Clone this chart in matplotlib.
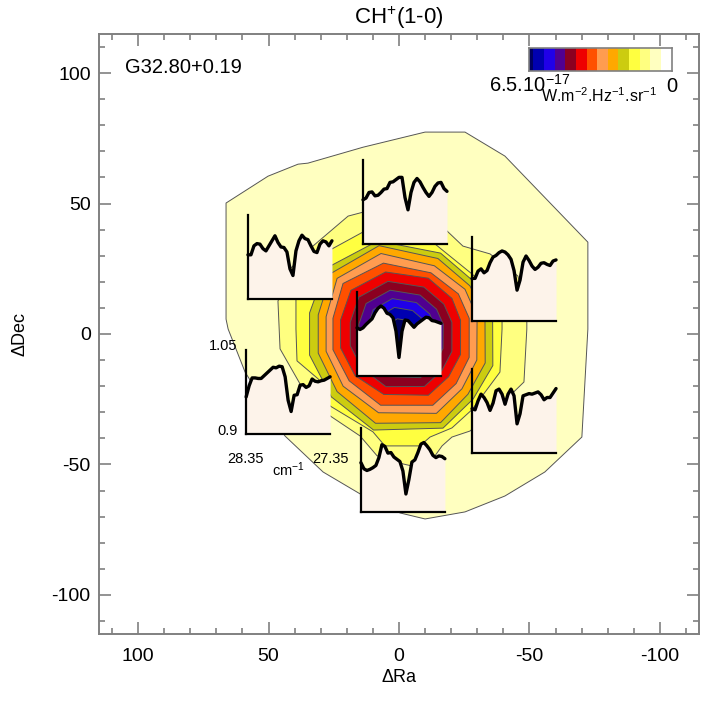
import numpy as np
import matplotlib
matplotlib.use("Agg")
import matplotlib.pyplot as plt
from matplotlib.ticker import MultipleLocator

plt.rcParams["font.family"] = ["Liberation Sans", "DejaVu Sans"]
plt.rcParams["mathtext.default"] = "regular"

# -------- CONTOUR DATA --------
pale_ra = [66.3, 50.2, 38.7, 34.9, 13.8, -10, -25.3, -40.6, -72.4, -72.4, -70.1, -55.9, -40.6, -25.3, -10, -0.4, 14.9, 29.1, 43.7, 59, 65.5, 66.3]
pale_dec = [50.2, 60.5, 65.1, 65.5, 71.6, 77.4, 77.4, 68.2, 35.2, 1.9, -39.5, -52.9, -62.1, -68.2, -70.9, -68.6, -61.3, -52.9, -39.1, -14.6, 1.9, 5.7]
light_ra = [19.5, 13.8, -0.4, -18.4, -24.5, -34.9, -45.6, -49, -49, -47.9, -37, -27.2, -20.3, -16.5, -13.8, -5, -1.5, 3.4, 8.4, 14.9, 26.4, 37.9, 45.6, 46.4, 41.8, 33]
light_dec = [45.2, 46.7, 47, 39.5, 33.7, 30.7, 22.2, 6.9, 1.9, -18.4, -29, -37.2, -39.5, -42.9, -46.7, -50.6, -49.8, -47.9, -46.7, -39.1, -31.4, -19.2, -5.7, 12.6, 24.9, 33.7]
yellow_ra = [25.7, 13.8, -0.4, -13.8, -28, -36.8, -39.5, -39.5, -38.7, -28, -20.3, -11.9, -8, 5.4, 10, 26.4, 31, 39.1, 39.5, 39.5, 36]
yellow_dec = [32.6, 39.1, 41, 34.5, 23, 15.3, 4.6, 1.9, -14.6, -29, -36, -39.5, -42.9, -42.9, -37.5, -27.6, -17.2, -10.3, 1.9, 13.4, 23]

center_ra = -0.8
ring_angles = [104, 64, 35, 13, -19, -42, -66, -106, -138, -167, 167, 139]
olive_r = [36.8, 34.5, 34.5, 36, 37.2, 37.2, 39.5, 38.3, 36, 36, 36, 38.3]
orange_r = [34.9, 32.2, 32.2, 33, 34.1, 34.5, 37.2, 35.6, 33, 32.6, 32.6, 35.5]
salmon_r = [31.8, 29.1, 29.9, 29.9, 30.7, 31.4, 33.3, 31.4, 29.9, 29.5, 29.5, 32.5]
vermil_r = [28, 26.1, 26.8, 26.8, 27.6, 28.4, 29.9, 28.4, 26.8, 26.8, 26.8, 29.5]
red_r = [24.5, 23.8, 23.8, 23.4, 24.1, 24.5, 25.7, 24.1, 23.8, 23.8, 23.8, 25.5]
maroon_r = [20.8, 20, 20, 20, 20.6, 21, 22, 21, 20, 20, 20, 21.5]
purple_r = [17.3, 16.6, 16.6, 16.6, 17, 17.4, 18.3, 17, 16.6, 16.6, 16.6, 17.8]
blue_r = [14, 13.4, 13.4, 13.2, 13.6, 14, 14.5, 13.6, 13.2, 13, 13, 14.2]
deep_r = [10.5, 10, 10, 10, 10.2, 10.5, 11, 10.2, 10, 10, 10, 10.6]
navy_r = [6, 5.8, 5.8, 5.8, 6, 6, 6.4, 6, 5.8, 5.8, 5.8, 6]

ring_radii = [olive_r, orange_r, salmon_r, vermil_r, red_r, maroon_r, purple_r, blue_r, deep_r, navy_r]
ring_colors = ["#cccc10", "#ffa800", "#ff9c50", "#ff5000", "#ee0000", "#8b0020", "#500090", "#2000e8", "#0000b0", "#000060"]

# -------- COLOUR BAR --------
cbar_edges = [6.5, 6.32, 5.83, 5.33, 4.86, 4.37, 3.88, 3.39, 2.92, 2.44, 1.95, 1.46, 0.99, 0.49, 0]
cbar_colors = ["#000060", "#0000b0", "#2000e8", "#500090", "#8b0020", "#ee0000", "#ff5000", "#ff9c50", "#ffa800", "#cccc10", "#ffff40", "#ffff80", "#ffffc0", "#ffffff"]

# -------- SPECTRA (normalised flux, 28.35 to 27.35 cm-1) --------
flux_center = [0.986, 0.983, 0.986, 0.992, 0.997, 1.002, 1.013, 1.021, 1.025, 1.021, 1.012, 1.010, 1.004, 0.980, 0.933, 0.980, 1.000, 0.999, 0.993, 0.987, 0.993, 0.997, 1.001, 1.005, 1.004, 0.999, 0.998, 0.996, 0.994]
flux_top = [0.979, 0.982, 0.992, 0.993, 0.986, 0.987, 0.992, 0.998, 0.999, 1.010, 1.011, 1.015, 1.019, 1.019, 0.983, 0.961, 0.992, 1.010, 1.017, 1.011, 1.001, 0.992, 0.985, 0.992, 1.003, 1.009, 1.010, 0.999, 0.994]
flux_upleft = [0.979, 0.979, 0.995, 0.999, 0.998, 0.990, 0.986, 0.995, 1.004, 1.013, 1.001, 0.993, 0.992, 0.984, 0.954, 0.942, 0.986, 1.004, 1.014, 1.008, 1.006, 0.995, 0.985, 0.983, 0.998, 1.004, 1.002, 0.995, 1.004]
flux_upright = [0.976, 0.976, 0.989, 0.993, 0.986, 0.990, 1.004, 1.014, 1.017, 1.022, 1.025, 1.023, 1.018, 1.010, 0.990, 0.955, 0.973, 1.005, 1.016, 1.008, 0.998, 0.992, 0.996, 1.003, 1.004, 1.001, 0.999, 1.007, 1.009]
flux_lowleft = [0.966, 0.986, 1.000, 1.000, 0.999, 0.999, 1.004, 1.009, 1.014, 1.019, 1.018, 1.021, 1.020, 1.002, 0.960, 0.940, 0.969, 0.970, 0.987, 0.988, 0.983, 0.986, 0.998, 0.994, 0.993, 0.995, 0.996, 0.999, 1.002]
flux_lowright = [0.979, 0.977, 0.993, 1.005, 0.999, 0.990, 0.976, 0.989, 1.011, 1.014, 1.005, 0.987, 1.005, 1.014, 1.002, 0.952, 0.970, 1.002, 1.004, 1.006, 1.005, 1.007, 1.009, 1.004, 0.995, 0.999, 0.999, 1.007, 1.015]
flux_bottom = [0.988, 0.977, 0.974, 0.976, 0.979, 0.983, 0.997, 1.020, 1.017, 1.005, 1.006, 0.998, 0.994, 0.990, 0.973, 0.932, 0.958, 0.989, 0.993, 1.006, 1.021, 1.024, 1.018, 1.011, 1.001, 0.997, 1.000, 0.999, 0.995]

# lower left corner of each small panel, in (dRa, dDec)
panel_ra = [57.9, 13.8, -28, 58.6, -28, 14.6, 16.1]
panel_dec = [13.4, 34.5, 5, -38.3, -45.6, -68.2, -16.1]
panel_flux = [flux_upleft, flux_top, flux_upright, flux_lowleft, flux_lowright, flux_bottom, flux_center]
panel_size = 32.2

wavenumber = np.linspace(28.35, 27.35, 29)

GREY = "#808080"

fig = plt.figure(figsize=(7.06, 7.06), dpi=100)
ax = fig.add_axes([99 / 706, 72 / 706, 600 / 706, 600 / 706])
ax.set_xlim(115, -115)
ax.set_ylim(-115, 115)

# -------- FILLED CONTOURS --------
edge = "#555555"
ax.fill(pale_ra, pale_dec, facecolor="#ffffc0", edgecolor=edge, lw=0.7, zorder=1)
ax.fill(light_ra, light_dec, facecolor="#ffff80", edgecolor=edge, lw=0.7, zorder=2)
ax.fill(yellow_ra, yellow_dec, facecolor="#ffff40", edgecolor=edge, lw=0.7, zorder=3)

theta = np.radians(ring_angles)
for i, (r, c) in enumerate(zip(ring_radii, ring_colors)):
    r = np.array(r)
    ax.fill(center_ra - r * np.cos(theta), r * np.sin(theta), facecolor=c, edgecolor=edge, lw=0.7, zorder=4 + i)

# -------- AXES STYLE --------
for s in ax.spines.values():
    s.set_color(GREY)
    s.set_linewidth(1.4)
ax.xaxis.set_minor_locator(MultipleLocator(10))
ax.yaxis.set_minor_locator(MultipleLocator(10))
ax.tick_params(which="major", direction="in", length=8.6, width=1.2, color=GREY, top=True, right=True, labelsize=14, labelcolor="black")
ax.tick_params(which="minor", direction="in", length=4.3, width=1.2, color=GREY, top=True, right=True)
ax.tick_params(axis="x", which="major", pad=10)
ax.tick_params(axis="y", which="major", pad=6)
ax.set_xticks([100, 50, 0, -50, -100])
ax.set_xticklabels(["100", "50", "0", "-50", "-100"])
ax.set_yticks([-100, -50, 0, 50, 100])
ax.set_yticklabels(["-100", "-50", "0", "50", "100"])
ax.set_xlabel("\u0394Ra", fontsize=13)
ax.set_ylabel("\u0394Dec", fontsize=13)
ax.xaxis.set_label_coords(0.5, -(678 - 634) / 600, transform=ax.transAxes)
ax.xaxis.label.set_va("center")
ax.yaxis.set_label_coords(-(99 - 20) / 600, 0.5)
ax.yaxis.label.set_va("center")
ax.set_title("CH$^{+}$(1-0)", fontsize=16, pad=7.5)

ax.text(105, 102, "G32.80+0.19", fontsize=14.5, va="center", ha="left")

# -------- SMALL SPECTRA --------
for ra0, dec0, flux in zip(panel_ra, panel_dec, panel_flux):
    x0 = (115 - ra0) / 230
    y0 = (dec0 + 115) / 230
    sub = ax.inset_axes([x0, y0, panel_size / 230, panel_size / 230], zorder=20)
    sub.patch.set_visible(False)
    sub.set_xlim(28.35, 27.35)
    sub.set_ylim(0.9, 1.05)
    sub.fill_between(wavenumber, flux, 0.9, color="#fdf3ea", lw=0)
    sub.plot(wavenumber, flux, color="black", lw=2.4, solid_capstyle="round", clip_on=False)
    sub.spines["top"].set_visible(False)
    sub.spines["right"].set_visible(False)
    sub.spines["left"].set_linewidth(1.6)
    sub.spines["bottom"].set_linewidth(1.6)
    sub.set_xticks([])
    sub.set_yticks([])

# labels of the lower left panel
ax.text(62, -4.6, "1.05", fontsize=10.5, ha="right", va="center", zorder=25)
ax.text(62, -37.2, "0.9", fontsize=10.5, ha="right", va="center", zorder=25)
ax.text(59, -47.9, "28.35", fontsize=10.5, ha="center", va="center", zorder=25)
ax.text(26.4, -47.9, "27.35", fontsize=10.5, ha="center", va="center", zorder=25)
ax.text(42.5, -52, "cm$^{-1}$", fontsize=10.5, ha="center", va="center", zorder=25)

# -------- COLOUR BAR --------
cax = fig.add_axes([529 / 706, 635 / 706, 143 / 706, 23 / 706])
cax.pcolormesh(cbar_edges, [0, 1], np.arange(14).reshape(1, 14), cmap=matplotlib.colors.ListedColormap(cbar_colors), vmin=-0.5, vmax=13.5)
cax.set_xlim(6.5, 0)
cax.set_xticks([])
cax.set_yticks([])
for s in cax.spines.values():
    s.set_color(GREY)
    s.set_linewidth(1.2)

fig.text(489 / 706, 1 - 92 / 706, "6.5.10$^{-17}$", fontsize=14.5, ha="left", va="baseline")
fig.text(672 / 706, 1 - 92 / 706, "0", fontsize=14.5, ha="center", va="baseline")
fig.text(599 / 706, 1 - 102 / 706, "W.m$^{-2}$.Hz$^{-1}$.sr$^{-1}$", fontsize=11.5, ha="center", va="baseline")

fig.savefig("out.png", dpi=100)
